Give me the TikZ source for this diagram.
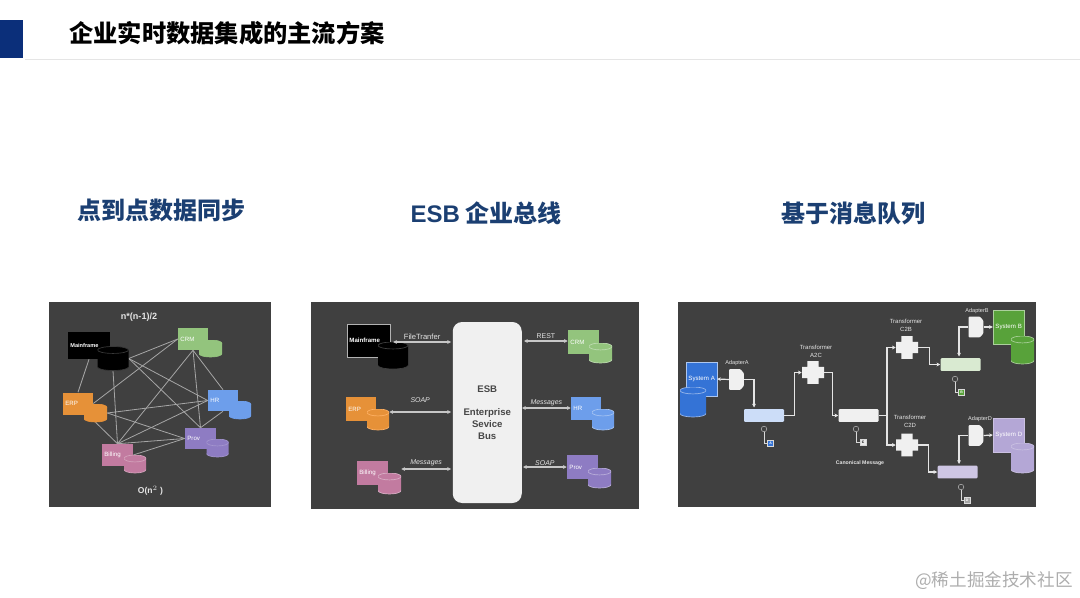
\documentclass[tikz,border=0pt]{standalone}
\usepackage{fontspec}
\setmainfont{Liberation Sans}
\newfontfamily\cjk{Noto Sans CJK SC}
\usetikzlibrary{shapes.geometric,shapes.misc,arrows.meta,backgrounds}

\definecolor{panelgray}{HTML}{404040}
\definecolor{titleblue}{HTML}{1B3F72}
\definecolor{barblue}{HTML}{0B2F7A}
\definecolor{crmgreen}{HTML}{93C47D}
\definecolor{hrblue}{HTML}{6D9EEB}
\definecolor{erporange}{HTML}{E69138}
\definecolor{provpurple}{HTML}{8E7CC3}
\definecolor{billpink}{HTML}{C27BA0}
\definecolor{sysablue}{HTML}{3473D6}
\definecolor{sysbgreen}{HTML}{58A23A}
\definecolor{sysdlilac}{HTML}{B4A7D6}

\tikzset{
  sysbox/.style 2 args={rectangle, inner xsep=1.8pt, inner ysep=0pt, text width={(#1*0.75pt-3.6pt)},
    minimum height={#2*0.75pt}, align=left, text=white, font=\fontsize{4.6}{5}\selectfont},
  store/.style n args={4}{rectangle, inner sep=0pt, minimum width={#1*0.75pt}, minimum height={#2*0.75pt},
    path picture={
      \fill[#3] ([yshift=-2.6pt]path picture bounding box.north west)
        -- ([yshift=2.6pt]path picture bounding box.south west)
        arc[start angle=180, end angle=360, x radius={#1*0.375pt}, y radius=2.6pt]
        -- ([yshift=-2.6pt]path picture bounding box.north east)
        arc[start angle=0, end angle=180, x radius={#1*0.375pt}, y radius=2.6pt] -- cycle;
      \draw[#4, line width=0.5pt] ([yshift=-2.6pt]path picture bounding box.north east)
        arc[start angle=0, end angle=-180, x radius={#1*0.375pt}, y radius=2.6pt];
      \draw[#4, line width=0.5pt] ([yshift=-2.6pt]path picture bounding box.north west)
        arc[start angle=180, end angle=0, x radius={#1*0.375pt}, y radius=2.6pt];
      \draw[#4, line width=0.5pt] ([yshift=2.6pt]path picture bounding box.south west)
        arc[start angle=180, end angle=360, x radius={#1*0.375pt}, y radius=2.6pt];
    }},
  heading/.style={font=\cjk\bfseries\fontsize{18}{20}\selectfont, text=titleblue, inner sep=0pt},
  caption/.style={font=\fontsize{5.2}{6}\selectfont, text=white!90!black, inner sep=1pt, align=center},
  slanted/.style={font=\itshape\fontsize{5.2}{6}\selectfont},
  mesh/.style={draw=white!65!black, line width=0.6pt},
  biarrow/.style={<->, draw=white!78!black, line width=0.85pt},
  flow/.style={->, draw=white!90!black, line width=0.9pt},
  queuebox/.style={rectangle, rounded corners=0.8pt, minimum width=30pt, minimum height=9.5pt, inner sep=0pt},
  adapter/.style={rectangle, inner sep=0pt, minimum width=11pt, minimum height=15.5pt,
    path picture={\fill[white!94!black, rounded corners=0.6pt] (path picture bounding box.south west)
      -- ++(8.5pt,0) -- ++(2.5pt,3pt) -- ++(0,9.5pt) -- ++(-2.5pt,3pt) -- ++(-8.5pt,0) -- cycle;}},
  plusbox/.style={rectangle, inner sep=0pt, minimum width=16.5pt, minimum height=17pt,
    path picture={\fill[white!94!black] (path picture bounding box.south west) ++(4pt,0) -- ++(8.5pt,0) -- ++(0,4.25pt)
      -- ++(4pt,0) -- ++(0,8.5pt) -- ++(-4pt,0) -- ++(0,4.25pt) -- ++(-8.5pt,0) -- ++(0,-4.25pt) -- ++(-4pt,0)
      -- ++(0,-8.5pt) -- ++(4pt,0) -- cycle;}},
  probe/.style={circle, draw=white!70!black, line width=0.4pt, minimum size=4.2pt, inner sep=0pt},
  tagbox/.style={rectangle, draw=white!85!black, line width=0.3pt, minimum size=4.4pt, inner sep=0pt,
    font=\bfseries\fontsize{2.6}{3}\selectfont},
  >={Stealth[length=2.8pt,width=2.8pt]}
}

\begin{document}
\begin{tikzpicture}[x=0.75pt, y=-0.75pt]
\useasboundingbox (0,0) rectangle (1080,598);

% header
\fill[barblue] (0,20) rectangle (22.5,58);
\draw[white!90!black, line width=0.6pt] (25,59) -- (1080,59);
\node[heading, text=black, anchor=west, font=\cjk\bfseries\fontsize{18.2}{20}\selectfont] (pagetitle) at (69,33) {企业实时数据集成的主流方案};
\node[heading] (headp2p) at (161,210) {点到点数据同步};
\node[heading] (headesb) at (486,213) {{\rmfamily\bfseries ESB} 企业总线};
\node[heading] (headmq) at (853,213) {基于消息队列};
\node[font=\cjk\fontsize{13.2}{15}\selectfont, text=white!68!black, inner sep=0pt] (mark) at (994,581) {@稀土掘金技术社区};

\begin{scope}[on background layer]
\fill[panelgray] (49,302) rectangle (271,507);
\fill[panelgray] (310.5,302) rectangle (639,509);
\fill[panelgray] (678,302) rectangle (1035.5,507);
\end{scope}

% point to point
\node[caption, font=\bfseries\fontsize{6.8}{7}\selectfont] (nformula) at (139,317) {n*(n-1)/2};
\node[caption, font=\bfseries\fontsize{6.4}{7}\selectfont] (onsquare) at (150.5,491) {O(n$^{2}$ )};

\node[sysbox={42}{27}, fill=black, font=\bfseries\fontsize{4.2}{5}\selectfont] (mainp) at (89,345.5) {Mainframe};
\node[store={31}{24}{black}{white!22!black}] (mainpdb) at (113,358.5) {};
\node[sysbox={30}{22}, fill=crmgreen] (crmp) at (193,339) {CRM};
\node[store={23}{17}{crmgreen}{crmgreen}] (crmpdb) at (210.5,348.5) {};
\node[sysbox={30}{21}, fill=hrblue] (hrp) at (223,400.5) {HR};
\node[store={22}{18}{hrblue}{hrblue}] (hrpdb) at (240,410) {};
\node[sysbox={30}{22}, fill=erporange] (erpp) at (78,403.5) {ERP};
\node[store={23}{18}{erporange}{erporange}] (erppdb) at (95.5,413) {};
\node[sysbox={31}{21}, fill=provpurple] (provp) at (200.5,438.5) {Prov};
\node[store={22}{18}{provpurple}{provpurple!80!white}] (provpdb) at (217.5,448) {};
\node[sysbox={31}{22}, fill=billpink] (billp) at (117.5,455) {Billing};
\node[store={22}{18}{billpink}{billpink!70!white}] (billpdb) at (135,464) {};

\begin{scope}[on background layer]
\foreach \a/\b in {mainp.south/erpp.north, mainpdb.east/crmp.west, mainpdb.east/hrp.west, mainpdb.east/provp.north,
    mainpdb.south/billp.north, erpp.east/crmp.west, erppdb.east/hrp.west, erppdb.east/provp.west,
    erppdb.south/billp.north, crmp.south/billp.north, crmp.south/hrp.north, crmp.south/provp.north,
    hrp.west/billp.north, hrp.south/provp.north, provp.west/billp.north, provp.west/billp.east}
  \draw[mesh] (\a) -- (\b);
\end{scope}

% esb
\node[rectangle, rounded corners=7pt, fill=white!94!black, minimum width=51.75pt, minimum height=135.75pt, inner sep=0pt,
  align=center, font=\bfseries\fontsize{7.2}{9}\selectfont, text=black!72] (esb) at (487.25,412.5)
  {ESB\\[8pt]Enterprise\\Sevice\\Bus};

\node[sysbox={43}{33}, fill=black, draw=white!70!black, line width=0.3pt, font=\bfseries\fontsize{4.6}{5}\selectfont] (maine) at (368.5,340.5) {Mainframe};
\node[store={30}{27}{black}{white!25!black}] (mainedb) at (393,355.5) {};
\node[sysbox={30}{24}, fill=erporange] (erpe) at (361,409) {ERP};
\node[store={22}{21}{erporange}{orange!60!white}] (erpedb) at (378,419.5) {};
\node[sysbox={31}{24}, fill=billpink] (bille) at (372.5,473) {Billing};
\node[store={23}{21}{billpink}{billpink!60!white}] (billedb) at (389.5,483.5) {};
\node[sysbox={31}{24}, fill=crmgreen] (crme) at (583.5,342) {CRM};
\node[store={23}{20}{crmgreen}{crmgreen!60!white}] (crmedb) at (600.5,353) {};
\node[sysbox={30}{23}, fill=hrblue] (hre) at (586,408.5) {HR};
\node[store={22}{21}{hrblue}{hrblue!60!white}] (hredb) at (603,419.5) {};
\node[sysbox={31}{24}, fill=provpurple] (prove) at (582.5,467) {Prov};
\node[store={23}{20}{provpurple}{provpurple!60!white}] (provedb) at (599.5,478) {};

\coordinate (esbmain) at (451,342);
\coordinate (esberp) at (451,412);
\coordinate (esbbill) at (451,469);
\coordinate (esbcrm) at (524,341);
\coordinate (esbhr) at (522,408);
\coordinate (esbprov) at (523,467);

\draw[biarrow] (esbmain -| maine.east) ++(3,0) -- node[caption, above, yshift=0.5pt, font=\fontsize{5.7}{6}\selectfont] (lblfile) {FileTranfer} (esbmain);
\draw[biarrow] (esberp -| erpedb.east) -- node[caption, slanted, above=5.5pt] (lblsoapl) {SOAP} (esberp);
\draw[biarrow] (esbbill -| billedb.east) -- node[caption, slanted, above, yshift=0.5pt] (lblmsgl) {Messages} (esbbill);
\draw[biarrow] (esbcrm) -- node[caption, above, yshift=0.5pt] (lblrest) {REST} (esbcrm -| crme.west);
\draw[biarrow] (esbhr) -- node[caption, slanted, above] (lblmsgr) {Messages} (esbhr -| hre.west);
\draw[biarrow] (esbprov) -- node[caption, slanted, above] (lblsoapr) {SOAP} (esbprov -| prove.west);

% message queue
\node[sysbox={31}{34}, fill=sysablue, draw=white!60!sysablue, line width=0.3pt] (sysa) at (701.5,379) {\mbox{System A}};
\node[store={26}{30}{sysablue}{white!50!sysablue}] (sysadb) at (693,402) {};
\node[sysbox={31}{34}, fill=sysbgreen, draw=white!50!sysbgreen, line width=0.3pt] (sysb) at (1008.5,327) {\mbox{System B}};
\node[store={23}{28}{sysbgreen}{white!50!sysbgreen}] (sysbdb) at (1022.5,350) {};
\node[sysbox={31}{34}, fill=sysdlilac, draw=white!30!sysdlilac, line width=0.3pt] (sysd) at (1008.5,435) {\mbox{System D}};
\node[store={23}{30}{sysdlilac}{white!30!sysdlilac}] (sysddb) at (1022.5,458) {};

\node[adapter] (adapa) at (736.5,379.5) {};
\node[adapter] (adapb) at (976,327) {};
\node[adapter] (adapd) at (976,435.5) {};
\node[caption, font=\fontsize{4.2}{5}\selectfont] (lbladapa) at (737,363) {AdapterA};
\node[caption, font=\fontsize{4.2}{5}\selectfont] (lbladapb) at (977,311) {AdapterB};
\node[caption, font=\fontsize{4.2}{5}\selectfont] (lbladapd) at (980,419) {AdapterD};

\node[queuebox, fill=hrblue!35!white] (qa) at (764,415.5) {};
\node[queuebox, fill=white!94!black] (qc) at (858.5,415.5) {};
\node[queuebox, fill=crmgreen!35!white] (qb) at (960.5,364.5) {};
\node[queuebox, fill=sysdlilac!65!white] (qd) at (957.5,472) {};

\node[plusbox] (xfa) at (813,372.5) {};
\node[plusbox] (xfb) at (907,347.5) {};
\node[plusbox] (xfd) at (907,445) {};
\node[caption, font=\fontsize{4.5}{6}\selectfont] (lblxfa) at (816,351) {Transformer\\A2C};
\node[caption, font=\fontsize{4.5}{6}\selectfont] (lblxfb) at (906,325) {Transformer\\C2B};
\node[caption, font=\fontsize{4.5}{6}\selectfont] (lblxfd) at (910,421.5) {Transformer\\C2D};
\node[caption, font=\bfseries\fontsize{3.9}{5}\selectfont] (lblcanon) at (860,463) {Canonical Message};

\coordinate (qain) at (754,407.5);
\coordinate (qbin) at (959,356.5);
\coordinate (qdin) at (959,464);
\coordinate (branch) at (887,415.5);

\draw[flow] (adapa.west) -- (sysa.east);
\draw[flow] (adapa.east) -| (qain);
\draw[flow] (qa.east) -- ++(10,0) |- (xfa.west);
\draw[flow] (xfa.east) -- ++(8,0) |- (qc.west);
\draw[draw=white!90!black, line width=0.9pt] (qc.east) -- (branch);
\draw[flow] (branch) |- (xfb.west);
\draw[flow] (branch) |- (xfd.west);
\draw[flow] (xfb.east) -- ++(11,0) |- (qb.west);
\draw[flow] (xfd.east) -- ++(10,0) |- (qd.west);
\draw[flow] (adapb.east) -- (sysb.west);
\draw[flow] (adapb.west) -| (qbin);
\draw[flow] (adapd.east) -- (sysd.west);
\draw[flow] (adapd.west) -| (qdin);

\node[probe] (proba) at (764,429) {};
\node[probe] (probc) at (856,429) {};
\node[probe] (probb) at (955,379) {};
\node[probe] (probd) at (961,487) {};
\node[tagbox, fill=sysablue, text=white] (taga) at (770.5,443.5) {A};
\node[tagbox, fill=white!92!black, text=black] (tagc) at (863,442.5) {C};
\node[tagbox, fill=sysbgreen, text=white] (tagb) at (961.5,392.5) {B};
\node[tagbox, fill=white!65!black, text=white] (tagd) at (967,500.5) {D};
\draw[white!85!black, line width=0.4pt] (proba.south) |- (taga.west);
\draw[white!85!black, line width=0.4pt] (probc.south) |- (tagc.west);
\draw[white!85!black, line width=0.4pt] (probb.south) |- (tagb.west);
\draw[white!85!black, line width=0.4pt] (probd.south) |- (tagd.west);

\end{tikzpicture}
\end{document}
